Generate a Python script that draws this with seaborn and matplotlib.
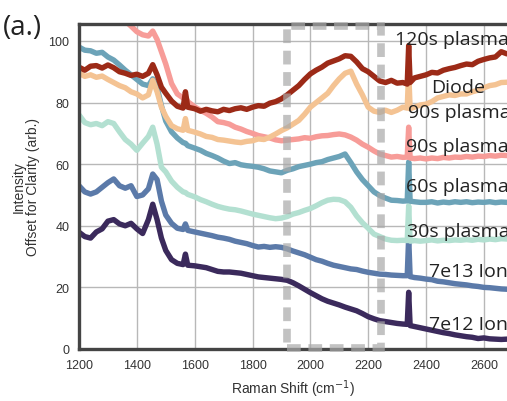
import matplotlib
matplotlib.use("Agg")
import matplotlib.pyplot as plt
import seaborn as sns
import pandas as pd
from matplotlib.patches import Rectangle

# ---------------- data ----------------
wavenumber = [1200, 1220, 1240, 1260, 1280, 1300, 1320, 1340, 1360, 1380, 1400, 1420, 1440,
              1455, 1470, 1485, 1500, 1520, 1540, 1560, 1568, 1576,
              1600, 1620, 1640, 1660, 1680, 1700, 1720, 1740, 1760, 1780, 1800, 1820, 1840,
              1860, 1880, 1900, 1920, 1940, 1960, 1980, 2000, 2020, 2040, 2060, 2080, 2100,
              2120, 2140, 2160, 2180, 2200, 2220, 2240, 2260, 2280, 2300, 2320,
              2335, 2340, 2345,
              2360, 2380, 2400, 2420, 2440, 2460, 2480, 2500, 2520, 2540, 2560, 2580, 2600,
              2620, 2640, 2660, 2680]

plasma_120s = [91.5, 90.5, 91.8, 92.0, 91.2, 92.2, 91.3, 90.0, 89.5, 88.8, 89.2, 88.5, 89.5,
               92.3, 89.0, 85.0, 83.0, 80.5, 78.8, 78.2, 83.5, 78.5,
               78.0, 77.2, 77.8, 77.3, 77.0, 77.8, 77.4, 78.0, 78.3, 77.8, 78.5, 79.0, 78.8,
               79.8, 80.3, 81.2, 82.5, 84.0, 85.5, 87.5, 89.3, 90.5, 91.5, 92.8, 93.5, 94.2,
               95.2, 95.0, 93.2, 91.0, 90.0, 88.5, 87.0, 86.5, 87.2, 86.3, 86.5,
               86.0, 98.5, 86.5,
               88.0, 88.5, 89.0, 89.8, 89.6, 90.5, 91.0, 91.4, 92.0, 92.5, 92.3, 93.4, 94.0,
               94.5, 94.8, 96.5, 95.8]

diode = [89.5, 88.5, 89.0, 88.2, 88.6, 87.5, 86.5, 85.5, 84.8, 83.5, 82.8, 81.5, 82.5,
         87.2, 83.5, 78.5, 75.5, 72.5, 71.5, 71.0, 74.8, 71.0,
         70.4, 69.8, 69.0, 68.7, 68.0, 67.8, 67.5, 67.2, 67.0, 67.4, 67.6, 68.2, 68.0,
         68.8, 69.8, 70.9, 71.8, 73.0, 74.2, 76.2, 78.5, 80.0, 81.5, 83.0, 85.5, 87.7,
         89.5, 90.2, 86.0, 82.5, 78.5, 77.2, 76.8, 77.5, 76.8, 77.5, 78.5,
         78.2, 90.4, 78.0,
         78.5, 79.2, 79.5, 80.3, 81.5, 82.0, 82.5, 82.3, 82.8, 82.8, 83.5, 84.0, 84.8,
         85.5, 85.8, 86.5, 86.6]

plasma_90s = [115.0, 114.0, 113.0, 112.0, 111.0, 110.0, 109.0, 108.0, 106.5, 104.8, 103.0, 102.0, 101.6,
              103.2, 100.5, 96.5, 92.5, 86.2, 82.8, 81.5, 81.8, 80.3,
              78.6, 77.5, 76.5, 75.3, 73.8, 73.5, 73.0, 72.0, 71.4, 70.6, 70.0, 69.3, 68.9,
              68.5, 67.9, 67.6, 67.8, 68.0, 68.2, 68.6, 68.4, 68.9, 69.2, 69.3, 69.6, 69.8,
              69.5, 68.8, 67.8, 66.5, 65.5, 64.3, 63.3, 62.8, 62.3, 62.5, 62.2,
              62.3, 72.0, 62.0,
              61.8, 62.0, 61.7, 62.0, 61.8, 62.2, 62.0, 62.3, 62.2, 62.5, 62.3, 62.6, 62.5,
              62.8, 62.6, 62.9, 62.8]

plasma_60s = [98.0, 97.0, 96.8, 96.0, 96.3, 94.8, 93.8, 92.2, 90.5, 89.0, 87.5, 86.0, 85.5,
              87.7, 85.0, 79.0, 74.0, 70.5, 68.5, 67.0, 66.8, 66.0,
              65.2, 64.5, 63.5, 62.8, 62.0, 61.0, 60.2, 60.5, 59.8, 59.5, 59.3, 59.0, 58.5,
              57.8, 57.5, 57.2, 58.0, 58.5, 59.2, 59.6, 60.0, 60.5, 60.8, 61.5, 62.0, 62.5,
              63.3, 60.5, 57.5, 55.0, 53.0, 51.0, 49.8, 49.0, 48.3, 48.2, 48.0,
              48.1, 60.7, 48.0,
              47.8, 47.6, 47.6, 47.8, 47.4, 47.7, 47.5, 47.8, 47.6, 47.8, 47.5, 47.7, 47.6,
              47.8, 47.5, 47.7, 47.6]

plasma_30s = [76.0, 73.5, 72.8, 73.2, 72.5, 73.8, 73.2, 70.5, 68.0, 66.5, 64.5, 66.8, 69.0,
              72.0, 66.5, 59.0, 57.5, 54.5, 52.5, 51.0, 50.8, 50.2,
              49.4, 48.5, 47.8, 47.0, 46.3, 45.8, 45.4, 45.2, 44.8, 44.3, 43.8, 43.4, 43.0,
              42.6, 42.3, 42.5, 43.0, 43.8, 44.3, 45.0, 45.6, 46.5, 47.5, 48.3, 48.6, 48.5,
              47.8, 46.0, 43.2, 41.0, 39.2, 37.3, 36.5, 35.7, 35.3, 35.2, 35.3,
              35.2, 46.5, 35.0,
              35.2, 35.0, 35.2, 35.4, 35.1, 35.3, 35.2, 35.4, 35.3, 35.5, 35.3, 35.6, 35.4,
              35.7, 35.5, 35.8, 35.7]

ion_7e13 = [53.0, 51.0, 50.3, 51.0, 52.5, 54.0, 55.2, 53.0, 52.2, 53.0, 49.5, 50.0, 52.0,
            56.8, 55.0, 48.0, 43.5, 40.8, 39.2, 38.8, 40.6, 38.5,
            38.0, 37.6, 37.2, 36.8, 36.3, 36.0, 35.6, 35.0, 34.6, 34.2, 33.6, 33.1, 33.3,
            33.0, 33.2, 33.0, 32.5, 31.8, 31.2, 30.6, 29.8, 29.0, 28.5, 27.8, 27.2, 26.8,
            26.4, 26.0, 25.8, 25.3, 24.9, 24.6, 24.3, 24.2, 24.0, 23.9, 23.8,
            23.8, 36.3, 23.5,
            23.2, 23.0, 22.7, 22.5, 22.0, 21.8, 21.5, 21.2, 21.0, 20.8, 20.5, 20.3, 20.0,
            19.9, 19.7, 19.5, 19.4]

ion_7e12 = [37.9, 36.5, 36.0, 38.0, 39.0, 41.5, 42.0, 40.6, 40.0, 40.8, 39.0, 37.5, 42.0,
            47.0, 42.0, 36.0, 32.0, 29.0, 27.8, 27.4, 30.8, 27.2,
            27.0, 26.7, 26.4, 25.8, 25.2, 25.0, 25.0, 24.8, 24.6, 24.2, 23.8, 23.4, 23.2,
            23.0, 22.8, 22.6, 22.3, 21.5, 20.5, 19.4, 18.3, 17.3, 16.3, 15.5, 14.9, 14.3,
            13.6, 13.0, 12.4, 11.5, 10.5, 9.8, 9.2, 8.9, 8.6, 8.3, 8.1,
            8.0, 18.4, 7.6,
            7.3, 6.9, 6.5, 6.1, 5.7, 5.3, 5.0, 4.6, 4.3, 4.0, 3.8, 3.4, 3.6,
            3.3, 3.2, 3.1, 3.2]

series_names = ["7e12 Ion", "7e13 Ion", "30s plasma", "60s plasma",
                "90s plasma", "Diode", "120s plasma"]
series_values = [ion_7e12, ion_7e13, plasma_30s, plasma_60s, plasma_90s, diode, plasma_120s]
series_colors = ["#3b2a5c", "#5b7aa9", "#b3e0d1", "#6ca3b8", "#f79c98", "#f4c393", "#9c2a17"]

label_texts = ["120s plasma", "Diode", "90s plasma", "90s plasma",
               "60s plasma", "30s plasma", "7e13 Ion", "7e12 Ion"]
label_x = [2293, 2417, 2338, 2331, 2331, 2334, 2410, 2410]
label_y = [100.6, 85.0, 77.0, 66.0, 53.0, 38.4, 25.4, 8.1]

x_ticks = [1200, 1400, 1600, 1800, 2000, 2200, 2400, 2600]
y_ticks = [0, 20, 40, 60, 80, 100]
box_x = [1920, 2244]

# ---------------- build long table ----------------
rows = []
for name, vals in zip(series_names, series_values):
    assert len(vals) == len(wavenumber), (name, len(vals))
    for w, v in zip(wavenumber, vals):
        rows.append({"shift": w, "intensity": v, "sample": name})
df = pd.DataFrame(rows)

# ---------------- plot ----------------
sns.set_theme(style="whitegrid")
plt.rcParams["font.family"] = ["Liberation Sans", "DejaVu Sans"]

fig = plt.figure(figsize=(5.07, 4.02), dpi=100)
ax = fig.add_axes([79 / 507, 52 / 402, 428 / 507, 325 / 402])

sns.lineplot(data=df, x="shift", y="intensity", hue="sample",
             hue_order=series_names, palette=dict(zip(series_names, series_colors)),
             linewidth=3.9, legend=False, estimator=None, sort=False, ax=ax)

ax.set_xlim(1200, 2680)
ax.set_ylim(0, 105.5)
ax.set_xticks(x_ticks)
ax.set_yticks(y_ticks)
ax.grid(True, color="#b8b8b8", linewidth=1.0)
ax.tick_params(axis="both", length=0, pad=7, labelsize=9, labelcolor="#333333")

for side in ["left", "top", "bottom"]:
    ax.spines[side].set_visible(True)
    ax.spines[side].set_color("#444444")
    ax.spines[side].set_linewidth(2.4)
ax.spines["right"].set_visible(False)

ax.set_xlabel("Raman Shift (cm$^{-1}$)", fontsize=10, color="#333333", labelpad=5)
ax.set_ylabel("Intensity\nOffset for Clarity (arb.)", fontsize=10, color="#333333",
              labelpad=6, linespacing=1.0)

rect = Rectangle((box_x[0], 0.4), box_x[1] - box_x[0], 104.6, fill=False,
                 edgecolor="#a8a8a8", alpha=0.7, linewidth=5.5, linestyle=(0, (1.8, 1.0)),
                 zorder=10, clip_on=False)
ax.add_patch(rect)

for t, x, y in zip(label_texts, label_x, label_y):
    ax.text(x, y, t, fontsize=14, family=["Open Sans", "DejaVu Sans"], color="#222222",
            ha="left", va="center", zorder=12, clip_on=False)

fig.text(0.006, 0.912, "(a.)", fontsize=20, family=["Open Sans", "DejaVu Sans"],
         color="#222222", ha="left", va="baseline")

fig.savefig("out.png", dpi=100)
